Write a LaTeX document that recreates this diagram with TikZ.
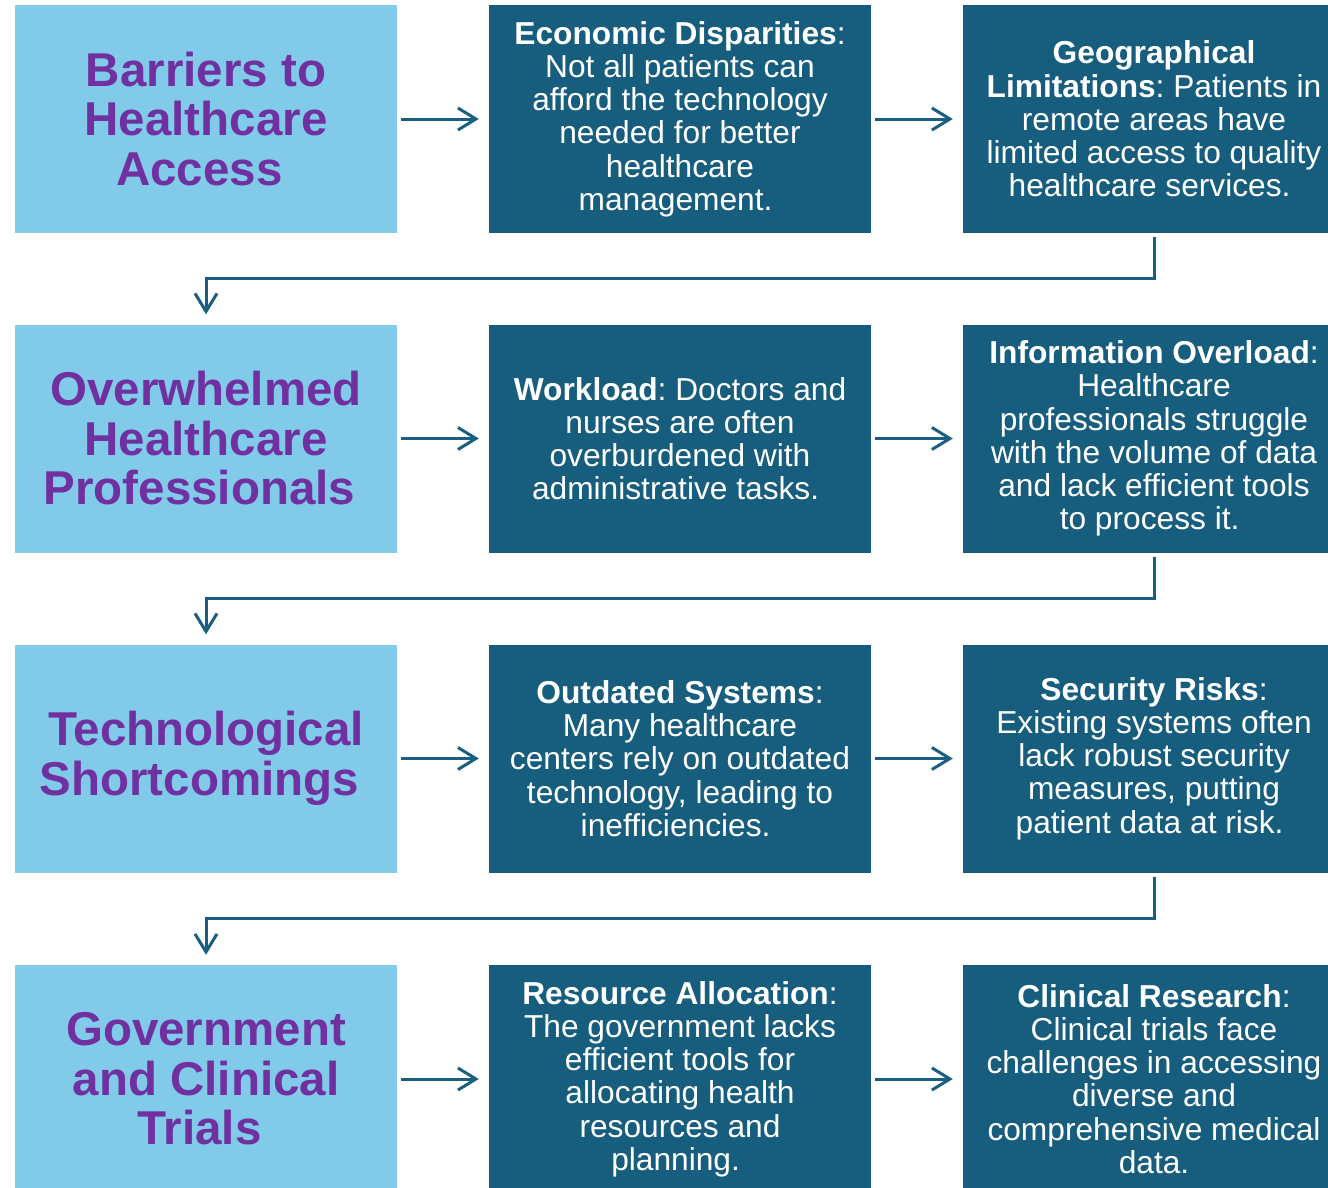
\documentclass[tikz,border=0pt]{standalone}
\usepackage{fontspec}
\setmainfont{Liberation Sans}
\usetikzlibrary{arrows.meta}
\frenchspacing
\definecolor{lightbox}{HTML}{82CAEA}
\definecolor{darkbox}{HTML}{175E7E}
\definecolor{titlepurple}{HTML}{7030A0}
\definecolor{conncol}{HTML}{1A5F80}
\newcommand{\tsp}{\hspace*{0.278em}}
\tikzset{
  titlebox/.style={fill=lightbox, draw=none, minimum width=382pt, minimum height=228pt, inner sep=0pt,
    align=center, text=titlepurple, font=\fontsize{47.5}{49.5}\selectfont\bfseries},
  descbox/.style={fill=darkbox, draw=none, minimum width=382pt, minimum height=228pt, inner sep=0pt,
    align=center, text=white, font=\fontsize{31.7}{33.2}\selectfont},
  conn/.style={draw=conncol, line width=3pt, shorten <=4pt, shorten >=10pt,
    -{Straight Barb[length=18pt, width=22pt, line width=3pt]}}
}
\begin{document}
\begin{tikzpicture}[x=1pt, y=-1pt]
\useasboundingbox (0,0) rectangle (1328,1187);
\clip (0,0) rectangle (1328,1187);
% row 1
\node[titlebox] (t1) at (206,119) {Barriers to\\Healthcare\\Access\tsp};
\node[descbox] (a1) at (680,119) {\textbf{Economic Disparities}:\\Not all patients can\\afford the technology\\needed for better\\healthcare\\management.\tsp};
\node[descbox] (b1) at (1154,119) {\textbf{Geographical}\\\textbf{Limitations}: Patients in\\remote areas have\\limited access to quality\\healthcare services.\tsp};
% row 2
\node[titlebox] (t2) at (206,438.5) {Overwhelmed\\Healthcare\\Professionals\tsp};
\node[descbox] (a2) at (680,438.5) {\textbf{Workload}: Doctors and\\nurses are often\\overburdened with\\administrative tasks.\tsp};
\node[descbox] (b2) at (1154,438.5) {\textbf{Information Overload}:\\Healthcare\\professionals struggle\\with the volume of data\\and lack efficient tools\\to process it.\tsp};
% row 3
\node[titlebox] (t3) at (206,758.5) {Technological\\Shortcomings\tsp};
\node[descbox] (a3) at (680,758.5) {\textbf{Outdated Systems}:\\Many healthcare\\centers rely on outdated\\technology, leading to\\inefficiencies.\tsp};
\node[descbox] (b3) at (1154,758.5) {\textbf{Security Risks}:\\Existing systems often\\lack robust security\\measures, putting\\patient data at risk.\tsp};
% row 4
\node[titlebox] (t4) at (206,1079) {Government\\and Clinical\\Trials\tsp};
\node[descbox] (a4) at (680,1079) {\textbf{Resource Allocation}:\\The government lacks\\efficient tools for\\allocating health\\resources and\\planning.\tsp};
\node[descbox] (b4) at (1154,1079) {\textbf{Clinical Research}:\\Clinical trials face\\challenges in accessing\\diverse and\\comprehensive medical\\data.};
% horizontal arrows
\foreach \r in {1,2,3,4} {
  \draw[conn] (t\r.east) -- (a\r.west);
  \draw[conn] (a\r.east) -- (b\r.west);
}
% elbow connectors
\coordinate (k1) at (1154,278);
\coordinate (k2) at (1154,598);
\coordinate (k3) at (1154,918);
\draw[conn] (b1.south) -- (k1) -| (t2.north);
\draw[conn] (b2.south) -- (k2) -| (t3.north);
\draw[conn] (b3.south) -- (k3) -| (t4.north);
\end{tikzpicture}
\end{document}
